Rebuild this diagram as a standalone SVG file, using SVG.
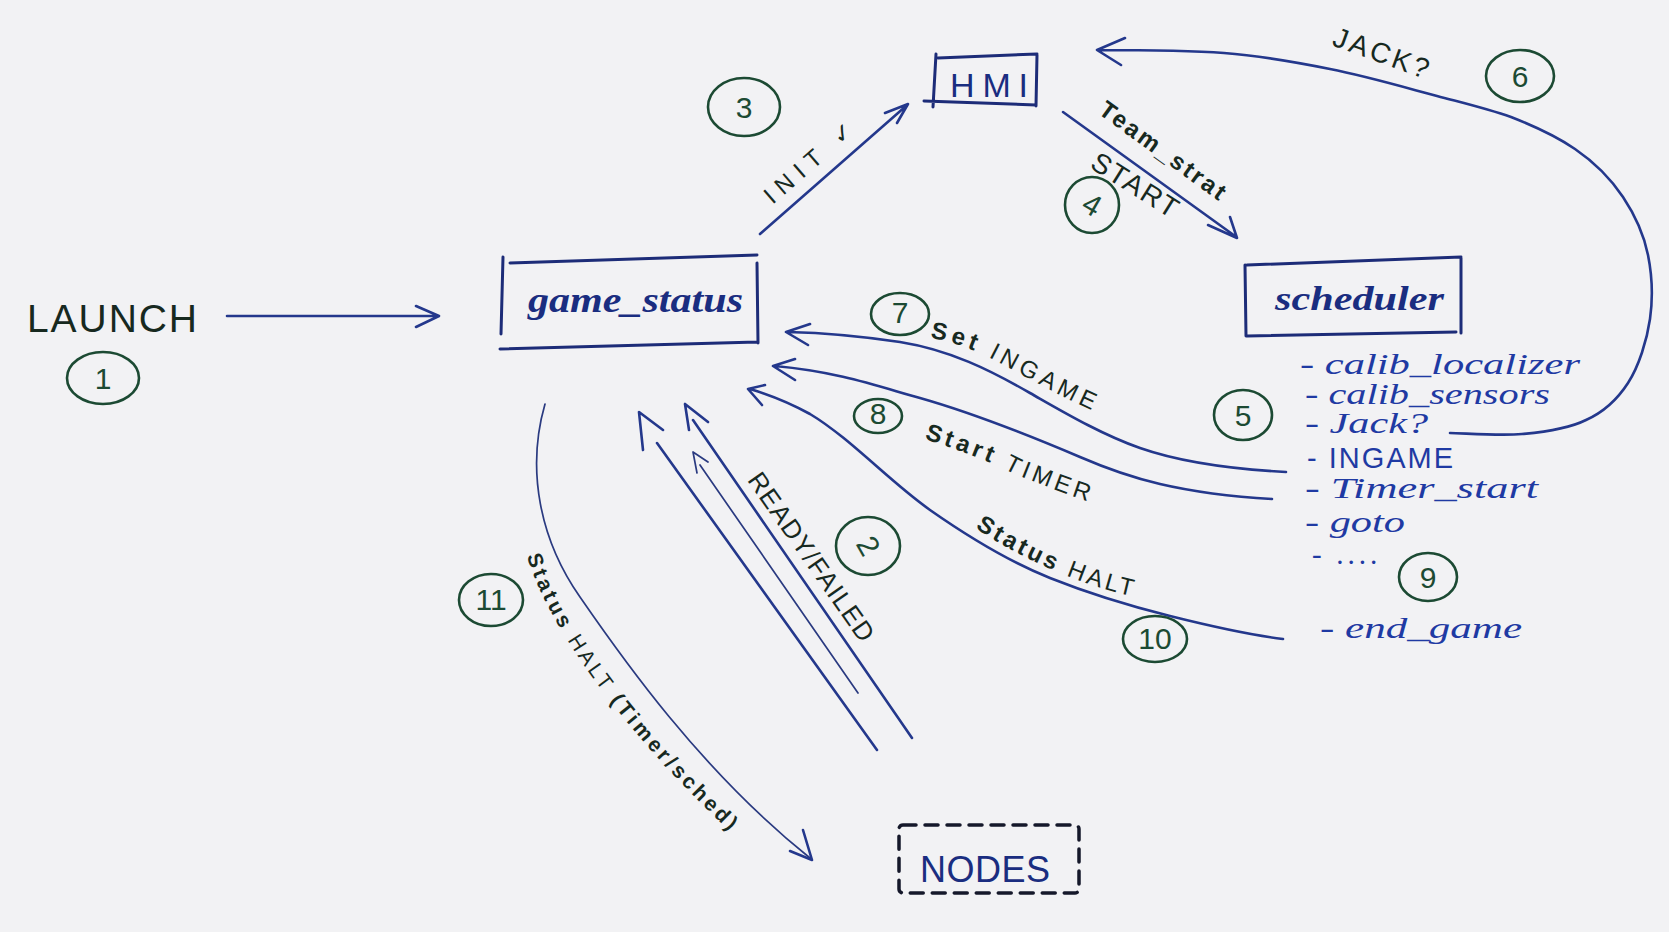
<svg xmlns="http://www.w3.org/2000/svg" width="1669" height="932" viewBox="0 0 1669 932">
<style>
.bg{fill:#f2f2f4}
.ink{fill:none;stroke:#24388c;stroke-width:2.6;stroke-linecap:round;stroke-linejoin:round}
.thin{fill:none;stroke:#2a3a80;stroke-width:1.7;stroke-linecap:round;stroke-linejoin:round}
.box{fill:none;stroke:#1d2c78;stroke-width:3;stroke-linecap:round}
.dash{fill:none;stroke:#15182a;stroke-width:3.5;stroke-dasharray:13 9;stroke-linecap:round}
.step{fill:none;stroke:#1c4a33;stroke-width:2.6}
.num{fill:#1c4a33;font-family:"Liberation Sans",Arial,sans-serif;font-size:30px;text-anchor:middle}
.lbl{fill:#17291f;font-family:"Liberation Sans","DejaVu Sans",Arial,sans-serif}
.node{fill:#1a2d80;font-family:"Liberation Sans",Arial,sans-serif}
.script{fill:#1a2d80;font-family:"Liberation Serif","Times New Roman",serif;font-style:italic;font-weight:bold}
.list{fill:#1f3aa3;font-family:"Liberation Serif","Times New Roman",serif;font-style:italic;font-size:29px}
</style>
<defs>
<path id="p7t" d="M930,338 C950,341 970,348 990,358 C1025,376 1060,397 1105,416"/>
<path id="p8t" d="M924,439 C960,450 990,462 1010,472 C1040,484 1065,494 1090,502"/>
<path id="p10t" d="M975,528 C1010,551 1045,568 1080,581 C1100,588 1120,594 1142,598"/>
<path id="p11t" d="M527,556 C545,620 620,730 735,836"/>
</defs>
<rect class="bg" x="0" y="0" width="1669" height="932"/>

<g id="node-launch">
<text class="lbl" x="27" y="332" font-size="39" textLength="170">LAUNCH</text>
</g>

<g id="node-game_status">
<path class="box" d="M503,257 L501,334 M510,263 L757,255 M757,263 L758,343 M500,349 L757,342"/>
<text class="script" x="528" y="312" font-size="36" textLength="215" lengthAdjust="spacingAndGlyphs">game_status</text>
</g>

<g id="node-hmi">
<path class="box" d="M936,54 L933,107 M938,58 L1037,54 M1037,55 L1036,106 M924,101 L1036,105"/>
<text class="node" x="950" y="97" font-size="34" textLength="78">HMI</text>
</g>

<g id="node-scheduler">
<path class="box" d="M1245,265 L1246,336 M1247,265 L1461,257 M1461,258 L1461,333 M1247,336 L1456,332"/>
<text class="script" x="1275" y="310" font-size="34" textLength="169" lengthAdjust="spacingAndGlyphs">scheduler</text>
<text class="list" x="1300" y="374" textLength="280" lengthAdjust="spacingAndGlyphs">- calib_localizer</text>
<text class="list" x="1305" y="404" textLength="245" lengthAdjust="spacingAndGlyphs">- calib_sensors</text>
<text class="list" x="1305" y="433" textLength="123" lengthAdjust="spacingAndGlyphs">- Jack?</text>
<text class="list" x="1307" y="468" font-size="25" textLength="146" style="font-style:normal;font-family:'Liberation Sans',Arial,sans-serif">- INGAME</text>
<text class="list" x="1305" y="498" textLength="233" lengthAdjust="spacingAndGlyphs">- Timer_start</text>
<text class="list" x="1305" y="532" textLength="100" lengthAdjust="spacingAndGlyphs">- goto</text>
<text class="list" x="1312" y="564" textLength="66">- ....</text>
<text class="list" x="1320" y="638" textLength="202" lengthAdjust="spacingAndGlyphs">- end_game</text>
</g>

<g id="node-nodes">
<rect class="dash" x="899" y="825" width="180" height="68" rx="4"/>
<text class="node" x="920" y="882" font-size="36" textLength="130">NODES</text>
</g>

<g id="connectors">
<path class="ink" d="M227,316 L437,316 M416,306 L439,316 L416,327"/>
<path class="ink" d="M760,234 L906,106 M885,113 L908,104 L897,123"/>
<path class="ink" d="M1063,112 L1235,236 M1208,225 L1237,238 L1230,217"/>
<path class="ink" d="M657,443 L877,750 M663,430 L639,412 L643,450"/>
<path class="ink" d="M693,420 L912,738 M708,422 L685,404 L689,430"/>
<path class="thin" d="M700,465 L858,693 M708,462 L693,452 L697,473"/>
<path class="thin" d="M545,404 C526,470 540,540 580,597 C620,655 700,770 810,858"/>
<path class="ink" d="M803,830 L812,860 L790,851"/>
<path class="ink" d="M1450,433 C1462,433 1499,436 1522,434 C1545,432 1568,429 1586,420 C1604,412 1617,400 1628,383 C1639,366 1647,340 1650,319 C1653,298 1652,275 1648,255 C1644,235 1635,215 1623,197 C1611,179 1594,162 1575,149 C1556,136 1534,126 1511,117 C1488,109 1467,104 1437,96 C1407,88 1366,76 1330,69 C1295,62 1263,56 1224,53 C1185,50 1119,50 1098,50 M1125,38 L1097,50 L1121,65"/>
<path class="ink" d="M1286,472 C1230,469 1180,462 1140,448 C1100,434 1060,410 1030,393 C990,370 950,350 900,342 C860,336 830,333 788,332 M810,324 L786,332 L808,345"/>
<path class="ink" d="M1272,499 C1220,496 1190,491 1160,484 C1130,477 1110,470 1080,457 C1040,440 980,415 920,398 C880,387 840,372 775,366 M795,359 L773,366 L795,380"/>
<path class="ink" d="M1283,639 C1250,635 1210,626 1170,616 C1130,606 1090,594 1050,578 C1010,562 970,538 930,510 C890,482 850,438 810,414 C790,403 770,395 750,389 M765,385 L748,389 L762,405"/>

<text class="lbl" font-size="24" text-anchor="middle" textLength="110" transform="translate(814,169) rotate(-41)">INIT ✓</text>
<text class="lbl" font-size="24" font-weight="bold" text-anchor="middle" textLength="150" transform="translate(1158,157) rotate(36)">Team_strat</text>
<text class="lbl" font-size="28" text-anchor="middle" textLength="97" transform="translate(1130,193) rotate(32)">START</text>
<text class="lbl" font-size="26" text-anchor="middle" textLength="200" transform="translate(804,562) rotate(55)">READY/FAILED</text>
<text class="lbl" font-size="28" text-anchor="middle" textLength="100" transform="translate(1378,62) rotate(20)">JACK?</text>
<text class="lbl" font-size="24"><textPath href="#p7t" textLength="178"><tspan font-weight="bold">Set</tspan> INGAME</textPath></text>
<text class="lbl" font-size="24"><textPath href="#p8t" textLength="175"><tspan font-weight="bold">Start</tspan> TIMER</textPath></text>
<text class="lbl" font-size="24"><textPath href="#p10t" textLength="172"><tspan font-weight="bold">Status</tspan> HALT</textPath></text>
<text class="lbl" font-size="21"><textPath href="#p11t" textLength="345"><tspan font-weight="bold">Status</tspan> HALT <tspan font-weight="bold">(Timer/sched)</tspan></textPath></text>
</g>

<g id="steps">
<ellipse class="step" cx="103" cy="378" rx="36" ry="26"/><text class="num" x="103" y="389">1</text>
<ellipse class="step" cx="868" cy="546" rx="32" ry="29"/><text class="num" transform="translate(868,546) rotate(60)" y="10">2</text>
<ellipse class="step" cx="744" cy="107" rx="36" ry="29"/><text class="num" x="744" y="118">3</text>
<ellipse class="step" cx="1092" cy="205" rx="27" ry="28"/><text class="num" transform="translate(1092,205) rotate(30)" y="10">4</text>
<ellipse class="step" cx="1243" cy="415" rx="29" ry="25"/><text class="num" x="1243" y="426">5</text>
<ellipse class="step" cx="1520" cy="76" rx="34" ry="26"/><text class="num" x="1520" y="87">6</text>
<ellipse class="step" cx="900" cy="314" rx="29" ry="21"/><text class="num" x="900" y="323" font-size="26">7</text>
<ellipse class="step" cx="878" cy="416" rx="24" ry="17"/><text class="num" x="878" y="424" font-size="22">8</text>
<ellipse class="step" cx="1428" cy="577" rx="29" ry="24"/><text class="num" x="1428" y="588">9</text>
<ellipse class="step" cx="1155" cy="639" rx="32" ry="23"/><text class="num" x="1155" y="649" font-size="28">10</text>
<ellipse class="step" cx="491" cy="600" rx="32" ry="26"/><text class="num" x="491" y="610" font-size="28">11</text>
</g>
</svg>
